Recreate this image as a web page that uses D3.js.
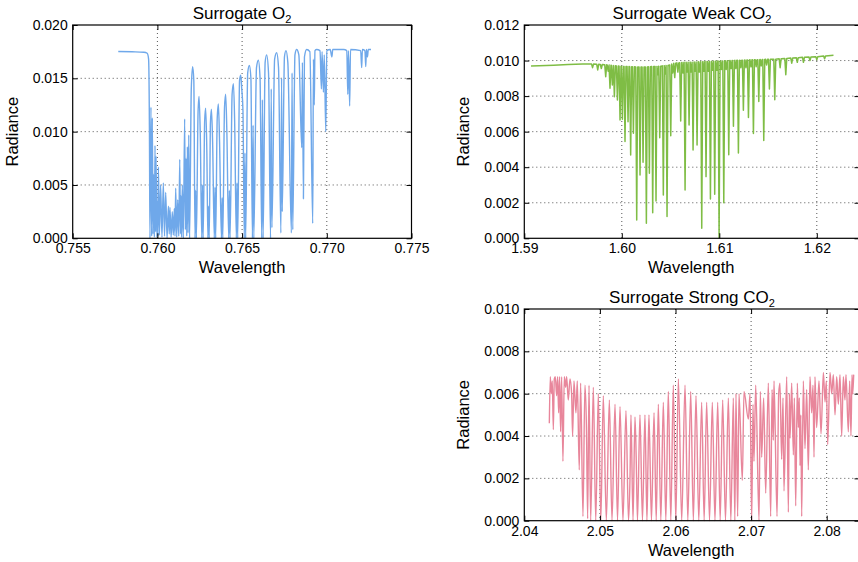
<!DOCTYPE html>
<html lang="en">
<head>
<meta charset="UTF-8">
<title>Surrogate spectra</title>
<script src="https://cdn.jsdelivr.net/npm/d3@7"></script>
<style>
    body { margin: 0; background: #fff; }
    text { font-family: "Liberation Sans", Arial, sans-serif; fill: #000; }
</style>
</head>
<body>
<div id="mainContent"></div>
<script>
    // ---- data: [wavelength, radiance] vertices ----
    const o2Trace = [
        [0.75769, 0.01752], [0.75850, 0.01749], [0.75920, 0.01745], [0.75940, 0.01735], [0.75948, 0.01680],
        [0.75953, 0.0100], [0.75956, 0.0000],
        [0.75962, 0.0123], [0.75966, 0.0002], [0.75970, 0.0113], [0.75974, 0.0004], [0.75978, 0.0060],
        [0.75982, 0.0001], [0.75986, 0.0087], [0.75989, 0.0006], [0.75992, 0.0077], [0.75997, 0.0001],
        [0.76001, 0.0035], [0.76003, 0.0002], [0.76006, 0.0067], [0.76012, 0.0003], [0.76019, 0.0050],
        [0.76027, 0.0001], [0.76035, 0.0052], [0.76042, 0.0002], [0.76049, 0.0043], [0.76057, 0.0000],
        [0.76065, 0.0030], [0.76070, 0.0004], [0.76074, 0.0029], [0.76081, 0.0001], [0.76088, 0.0025],
        [0.76094, 0.0003], [0.76100, 0.0028], [0.76104, 0.0002], [0.76108, 0.0047], [0.76114, 0.0001],
        [0.76120, 0.0036], [0.76126, 0.0002], [0.76132, 0.0074], [0.76136, 0.0004], [0.76139, 0.0040],
        [0.76143, 0.0001], [0.76147, 0.0050], [0.76153, 0.0000], [0.76161, 0.0112], [0.76165, 0.0008],
        [0.76169, 0.0075], [0.76173, 0.0002], [0.76177, 0.0086], [0.76181, 0.0005], [0.76185, 0.0097],
        [0.76190, 0.0000],
        [0.76200, 0.0140], [0.76208, 0.0161], [0.76215, 0.0148], [0.76222, 0.0000], [0.76226, 0.0045],
        [0.76230, 0.0000], [0.76240, 0.0118], [0.76246, 0.0133], [0.76253, 0.0098], [0.76262, 0.0000],
        [0.76266, 0.0050], [0.76270, 0.0000], [0.76279, 0.0110], [0.76285, 0.0122], [0.76292, 0.0080],
        [0.76298, 0.0000], [0.76302, 0.0030], [0.76306, 0.0000], [0.76313, 0.0108], [0.76319, 0.0121],
        [0.76326, 0.0090], [0.76336, 0.0000], [0.76340, 0.0048], [0.76344, 0.0000], [0.76353, 0.0112],
        [0.76360, 0.0126], [0.76367, 0.0090], [0.76378, 0.0000], [0.76382, 0.0038], [0.76386, 0.0000],
        [0.76396, 0.0122], [0.76403, 0.0135], [0.76410, 0.0100], [0.76421, 0.0000], [0.76425, 0.0045],
        [0.76429, 0.0000], [0.76441, 0.0135], [0.76449, 0.0145], [0.76456, 0.0110], [0.76466, 0.0000],
        [0.76470, 0.0052], [0.76474, 0.0000], [0.76485, 0.0148], [0.76492, 0.0153], [0.76498, 0.0140],
        [0.76505, 0.0120], [0.76513, 0.0000], [0.76517, 0.0080], [0.76521, 0.0000], [0.76533, 0.0155],
        [0.76543, 0.0162], [0.76552, 0.0150], [0.76561, 0.0000], [0.76565, 0.0106], [0.76569, 0.0000],
        [0.76585, 0.0160], [0.76596, 0.0167], [0.76606, 0.0150], [0.76616, 0.0000], [0.76620, 0.0130],
        [0.76624, 0.0000], [0.76636, 0.0165], [0.76645, 0.0172], [0.76656, 0.0155], [0.76668, 0.0000],
        [0.76672, 0.0140], [0.76676, 0.0010], [0.76692, 0.0168], [0.76704, 0.0174], [0.76715, 0.0160],
        [0.76729, 0.0005], [0.76733, 0.0150], [0.76737, 0.0025], [0.76750, 0.0170], [0.76759, 0.0176],
        [0.76770, 0.0165], [0.76791, 0.0005], [0.76795, 0.0155], [0.76799, 0.0008], [0.76812, 0.0172],
        [0.76822, 0.0177], [0.76835, 0.0172], [0.76852, 0.0085], [0.76856, 0.0165], [0.76862, 0.0037],
        [0.76868, 0.0170], [0.76881, 0.0177], [0.76900, 0.0175], [0.76917, 0.0014], [0.76921, 0.0168],
        [0.76926, 0.0125], [0.76930, 0.0176], [0.76940, 0.0177], [0.76960, 0.0176], [0.76968, 0.0140],
        [0.76972, 0.0175], [0.76980, 0.0137], [0.76985, 0.0172], [0.76994, 0.0100], [0.77000, 0.0176],
        [0.77020, 0.0177], [0.77030, 0.0170], [0.77035, 0.0177], [0.77100, 0.0177], [0.77118, 0.0176],
        [0.77124, 0.0135], [0.77128, 0.0176], [0.77135, 0.0124], [0.77140, 0.0177], [0.77200, 0.0176],
        [0.77206, 0.0160], [0.77210, 0.0177], [0.77225, 0.0176], [0.77230, 0.0161], [0.77234, 0.0177],
        [0.77240, 0.0170], [0.77245, 0.0177], [0.77261, 0.0177]
    ];

    // weak CO2: continuum before the band, then lines as [centre, level beside the line, line minimum]
    const co2wLead = [
        [1.59069, 0.00970], [1.59150, 0.00971], [1.59300, 0.00974], [1.59450, 0.00978], [1.59600, 0.00980]
    ];
    const co2wLines = [
        [1.59700, 0.00980, 0.00960], [1.59753, 0.00979, 0.00947], [1.59790, 0.00978, 0.00955],
        [1.59835, 0.00977, 0.00909], [1.59860, 0.00975, 0.00940], [1.59879, 0.00974, 0.00844],
        [1.59903, 0.00972, 0.00862], [1.59924, 0.00971, 0.00797], [1.59955, 0.00970, 0.00778],
        [1.59982, 0.00968, 0.00666], [1.60006, 0.00967, 0.00670], [1.60033, 0.00966, 0.00544],
        [1.60064, 0.00966, 0.00656], [1.60091, 0.00965, 0.00469], [1.60119, 0.00965, 0.00591],
        [1.60153, 0.00964, 0.00103], [1.60187, 0.00964, 0.00356], [1.60218, 0.00964, 0.00428],
        [1.60252, 0.00964, 0.00084], [1.60283, 0.00965, 0.00366], [1.60317, 0.00966, 0.00144],
        [1.60351, 0.00967, 0.00210], [1.60370, 0.00967, 0.00920], [1.60389, 0.00968, 0.00566],
        [1.60426, 0.00970, 0.00244], [1.60445, 0.00971, 0.00925], [1.60464, 0.00972, 0.00122],
        [1.60502, 0.00975, 0.00577], [1.60522, 0.00980, 0.00930], [1.60543, 0.00985, 0.00904],
        [1.60575, 0.00987, 0.00935], [1.60604, 0.00988, 0.00660], [1.60627, 0.00989, 0.00930],
        [1.60649, 0.00990, 0.00272], [1.60670, 0.00990, 0.00935], [1.60690, 0.00990, 0.00637],
        [1.60711, 0.00991, 0.00935], [1.60731, 0.00991, 0.00497], [1.60752, 0.00992, 0.00940],
        [1.60772, 0.00992, 0.00525], [1.60796, 0.00993, 0.00935], [1.60820, 0.00993, 0.00056],
        [1.60842, 0.00994, 0.00940], [1.60864, 0.00994, 0.00347], [1.60887, 0.00995, 0.00940],
        [1.60909, 0.00995, 0.00221], [1.60931, 0.00996, 0.00945], [1.60953, 0.00996, 0.00248],
        [1.60975, 0.00997, 0.00945], [1.60998, 0.00997, 0.00005], [1.61022, 0.00998, 0.00950],
        [1.61046, 0.00998, 0.00200], [1.61071, 0.00999, 0.00950], [1.61097, 0.00999, 0.00470],
        [1.61121, 0.01000, 0.00955], [1.61145, 0.01000, 0.00630], [1.61170, 0.01001, 0.00955],
        [1.61196, 0.01001, 0.00480], [1.61221, 0.01002, 0.00960], [1.61247, 0.01002, 0.00720],
        [1.61273, 0.01003, 0.00960], [1.61299, 0.01003, 0.00680], [1.61325, 0.01004, 0.00965],
        [1.61350, 0.01004, 0.00590], [1.61378, 0.01005, 0.00965], [1.61405, 0.01005, 0.00770],
        [1.61430, 0.01006, 0.00970], [1.61456, 0.01006, 0.00550], [1.61485, 0.01007, 0.00975],
        [1.61514, 0.01007, 0.00840], [1.61569, 0.01008, 0.00780], [1.61624, 0.01010, 0.00960],
        [1.61682, 0.01012, 0.00920], [1.61743, 0.01014, 0.00985], [1.61800, 0.01016, 0.00990],
        [1.61863, 0.01018, 0.00990], [1.61930, 0.01020, 0.01000], [1.62000, 0.01022, 0.01005],
        [1.62080, 0.01026, 0.01010]
    ];
    const co2wTail = [[1.62171, 0.01030]];

    const co2sTrace = [
        [2.04331, 0.0046], [2.04344, 0.0068], [2.04357, 0.0060], [2.04370, 0.0066], [2.04384, 0.0043],
        [2.04397, 0.0067], [2.04410, 0.0068], [2.04428, 0.0059], [2.04441, 0.0068], [2.04454, 0.0051],
        [2.04467, 0.0068], [2.04480, 0.0042], [2.04494, 0.0068], [2.04511, 0.0028], [2.04529, 0.0068],
        [2.04547, 0.0063], [2.04560, 0.0068], [2.04582, 0.0057], [2.04604, 0.0067], [2.04626, 0.0060],
        [2.04639, 0.0040], [2.04657, 0.0066], [2.04683, 0.0051], [2.04701, 0.0066], [2.04727, 0.0024],
        [2.04745, 0.0065], [2.04776, 0.0002], [2.04802, 0.0064], [2.04822, 0.0044], [2.04838, 0.0001],
        [2.04856, 0.0064], [2.04878, 0.0000], [2.04913, 0.0063], [2.04945, 0.0000], [2.04979, 0.0060],
        [2.05012, 0.0000], [2.05045, 0.0059], [2.05085, 0.0000], [2.05125, 0.0057], [2.05160, 0.0000],
        [2.05200, 0.0055], [2.05233, 0.0000], [2.05266, 0.0054], [2.05305, 0.0000], [2.05345, 0.0052],
        [2.05378, 0.0000], [2.05398, 0.0020], [2.05411, 0.0050], [2.05438, 0.0000], [2.05464, 0.0049],
        [2.05480, 0.0030], [2.05497, 0.0000], [2.05530, 0.0050], [2.05563, 0.0000], [2.05596, 0.0050],
        [2.05622, 0.0000], [2.05635, 0.0025], [2.05649, 0.0050], [2.05682, 0.0000], [2.05716, 0.0051],
        [2.05745, 0.0000], [2.05773, 0.0055], [2.05806, 0.0000], [2.05839, 0.0056], [2.05872, 0.0000],
        [2.05905, 0.0061], [2.05938, 0.0000], [2.05971, 0.0064], [2.06004, 0.0000], [2.06038, 0.0067],
        [2.06082, 0.0000], [2.06126, 0.0064], [2.06163, 0.0000], [2.06201, 0.0061], [2.06236, 0.0000],
        [2.06271, 0.0059], [2.06308, 0.0000], [2.06346, 0.0056], [2.06379, 0.0000], [2.06412, 0.0056],
        [2.06450, 0.0000], [2.06487, 0.0056], [2.06522, 0.0000], [2.06558, 0.0056], [2.06591, 0.0000],
        [2.06624, 0.0057], [2.06661, 0.0000], [2.06699, 0.0058], [2.06732, 0.0000], [2.06765, 0.0058],
        [2.06785, 0.0000], [2.06800, 0.0060], [2.06822, 0.0002], [2.06840, 0.0060], [2.06884, 0.0019],
        [2.06906, 0.0061], [2.06964, 0.0048], [2.06986, 0.0060], [2.07008, 0.0000], [2.07025, 0.0055],
        [2.07038, 0.0028], [2.07061, 0.0064], [2.07105, 0.0000], [2.07122, 0.0061], [2.07140, 0.0030],
        [2.07166, 0.0058], [2.07193, 0.0013], [2.07228, 0.0065], [2.07259, 0.0002], [2.07277, 0.0062],
        [2.07294, 0.0038], [2.07303, 0.0066], [2.07343, 0.0002], [2.07365, 0.0060], [2.07382, 0.0065],
        [2.07404, 0.0029], [2.07422, 0.0058], [2.07435, 0.0014], [2.07471, 0.0068], [2.07493, 0.0004],
        [2.07506, 0.0060], [2.07515, 0.0039], [2.07537, 0.0065], [2.07559, 0.0031], [2.07572, 0.0058],
        [2.07590, 0.0007], [2.07612, 0.0065], [2.07625, 0.0044], [2.07638, 0.0058], [2.07647, 0.0026],
        [2.07658, 0.0050], [2.07669, 0.0002], [2.07691, 0.0066], [2.07713, 0.0034], [2.07735, 0.0062],
        [2.07757, 0.0024], [2.07779, 0.0068], [2.07801, 0.0051], [2.07819, 0.0064], [2.07832, 0.0030],
        [2.07845, 0.0068], [2.07867, 0.0044], [2.07898, 0.0066], [2.07925, 0.0041], [2.07956, 0.0070],
        [2.07978, 0.0056], [2.07995, 0.0066], [2.08013, 0.0036], [2.08044, 0.0070], [2.08066, 0.0060],
        [2.08088, 0.0069], [2.08110, 0.0050], [2.08132, 0.0068], [2.08154, 0.0055], [2.08176, 0.0069],
        [2.08198, 0.0040], [2.08220, 0.0068], [2.08242, 0.0057], [2.08255, 0.0069], [2.08286, 0.0042],
        [2.08304, 0.0066], [2.08321, 0.0040], [2.08335, 0.0069], [2.08344, 0.0060], [2.08357, 0.0069]
    ];

    const o2XTicks = [0.755, 0.760, 0.765, 0.770, 0.775];
    const o2YTicks = [0.000, 0.005, 0.010, 0.015, 0.020];
    const co2wXTicks = [1.59, 1.60, 1.61, 1.62];
    const co2wYTicks = [0.000, 0.002, 0.004, 0.006, 0.008, 0.010, 0.012];
    const co2sXTicks = [2.04, 2.05, 2.06, 2.07, 2.08];
    const co2sYTicks = [0.000, 0.002, 0.004, 0.006, 0.008, 0.010];

    // half width of a narrow weak-CO2 line (drawing only)
    const lineHalfWidth = 0.0001;

    const W = 858, H = 562;
    const svg = d3.select("#mainContent").append("svg")
        .attr("width", W).attr("height", H);

    function drawPanel(p) {
        const x = d3.scaleLinear().domain(p.xDomain).range([p.left, p.right]);
        const y = d3.scaleLinear().domain(p.yDomain).range([p.bottom, p.top]);
        const g = svg.append("g");

        // dotted grid at inner ticks
        g.selectAll(".vgrid")
            .data(p.xTicks.filter(t => x(t) > p.left + 1 && x(t) < p.right - 1))
            .enter().append("line")
            .attr("x1", d => x(d)).attr("x2", d => x(d))
            .attr("y1", p.top).attr("y2", p.bottom)
            .attr("stroke", "#555").attr("stroke-width", 1)
            .attr("stroke-dasharray", "1,3");
        g.selectAll(".hgrid")
            .data(p.yTicks.filter(t => y(t) > p.top + 1 && y(t) < p.bottom - 1))
            .enter().append("line")
            .attr("x1", p.left).attr("x2", p.right)
            .attr("y1", d => y(d)).attr("y2", d => y(d))
            .attr("stroke", "#555").attr("stroke-width", 1)
            .attr("stroke-dasharray", "1,3");

        // spectrum
        g.append("path")
            .datum(p.points)
            .attr("fill", "none")
            .attr("stroke", p.color)
            .attr("stroke-width", p.lineWidth)
            .attr("stroke-linejoin", "round")
            .attr("d", d3.line()
                .x(d => x(d[0]))
                .y(d => y(d[1]))
                .curve(p.curve));

        // axes, ticks pointing inward
        const fmtX = d3.format(p.xFormat), fmtY = d3.format(p.yFormat);
        const bottom = g.append("g").attr("transform", "translate(0," + p.bottom + ")")
            .call(d3.axisBottom(x).tickValues(p.xTicks).tickFormat(fmtX)
                .tickSizeInner(-5).tickSizeOuter(0).tickPadding(5));
        const left = g.append("g").attr("transform", "translate(" + p.left + ",0)")
            .call(d3.axisLeft(y).tickValues(p.yTicks).tickFormat(fmtY)
                .tickSizeInner(-5).tickSizeOuter(0).tickPadding(5));
        const top = g.append("g").attr("transform", "translate(0," + p.top + ")")
            .call(d3.axisTop(x).tickValues(p.xTicks).tickFormat("")
                .tickSizeInner(-5).tickSizeOuter(0));
        const right = g.append("g").attr("transform", "translate(" + p.right + ",0)")
            .call(d3.axisRight(y).tickValues(p.yTicks).tickFormat("")
                .tickSizeInner(-5).tickSizeOuter(0));
        [bottom, left, top, right].forEach(a => {
            a.select(".domain").remove();
            a.selectAll(".tick line").attr("stroke", "#000").attr("stroke-width", 1);
            a.selectAll(".tick text")
                .attr("font-family", "'Liberation Sans', Arial, sans-serif")
                .attr("font-size", 14).attr("fill", "#000");
        });

        // frame
        g.append("rect")
            .attr("x", p.left).attr("y", p.top)
            .attr("width", p.right - p.left).attr("height", p.bottom - p.top)
            .attr("fill", "none").attr("stroke", "#000").attr("stroke-width", 1.2);

        // title with subscript
        const title = g.append("text")
            .attr("x", p.titleX).attr("y", p.top - 6.5)
            .attr("text-anchor", "middle")
            .attr("font-size", 17);
        title.append("tspan").text(p.title);
        title.append("tspan").text("2").attr("font-size", 11).attr("dy", 4);

        g.append("text")
            .attr("x", (p.left + Math.min(p.right, W)) / 2)
            .attr("y", p.bottom + 35)
            .attr("text-anchor", "middle")
            .attr("font-size", 16.5)
            .text("Wavelength");

        g.append("text")
            .attr("transform", "translate(" + (p.left - 55) + "," + ((p.top + p.bottom) / 2) + ") rotate(-90)")
            .attr("text-anchor", "middle")
            .attr("font-size", 16.5)
            .text("Radiance");
    }

    // weak CO2 vertices: lead continuum, then each line as shoulder / minimum / shoulder
    const co2wPoints = co2wLead.slice();
    co2wLines.forEach(l => {
        co2wPoints.push([l[0] - lineHalfWidth, l[1]], [l[0], l[2]], [l[0] + lineHalfWidth, l[1]]);
    });
    co2wTail.forEach(pt => co2wPoints.push(pt));

    drawPanel({
        left: 72.7, right: 411.5, top: 25, bottom: 238.3, titleX: 242,
        xDomain: [0.755, 0.775], yDomain: [0, 0.020],
        xTicks: o2XTicks, yTicks: o2YTicks, xFormat: ".3f", yFormat: ".3f",
        points: o2Trace, color: "#6fa8ea", curve: d3.curveMonotoneX, lineWidth: 1.4,
        title: "Surrogate O"
    });

    drawPanel({
        left: 524.3, right: 859.5, top: 25, bottom: 238.3, titleX: 692,
        xDomain: [1.59, 1.59 + (859.5 - 524.3) / 9750], yDomain: [0, 0.012],
        xTicks: co2wXTicks, yTicks: co2wYTicks, xFormat: ".2f", yFormat: ".3f",
        points: co2wPoints, color: "#7fbd45", curve: d3.curveLinear, lineWidth: 1.5,
        title: "Surrogate Weak CO"
    });

    drawPanel({
        left: 524.3, right: 859.5, top: 309, bottom: 520.7, titleX: 692,
        xDomain: [2.04, 2.04 + (859.5 - 524.3) / 7560], yDomain: [0, 0.010],
        xTicks: co2sXTicks, yTicks: co2sYTicks, xFormat: ".2f", yFormat: ".3f",
        points: co2sTrace, color: "#e8869b", curve: d3.curveMonotoneX, lineWidth: 1.4,
        title: "Surrogate Strong CO"
    });
</script>
</body>
</html>
